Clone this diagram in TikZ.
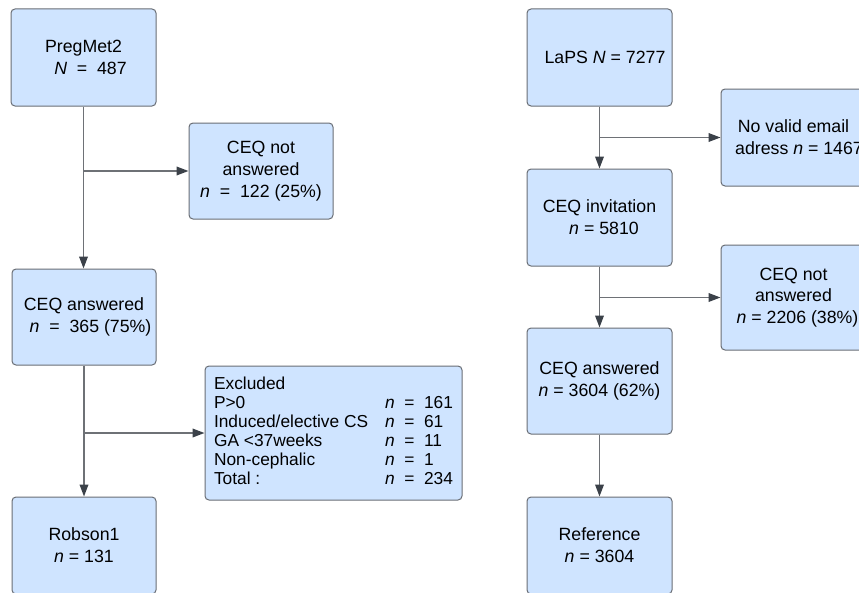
\documentclass[tikz,border=0pt]{standalone}
\usepackage{fontspec}
\setmainfont{Liberation Sans}
\usetikzlibrary{arrows.meta}
\definecolor{boxfill}{HTML}{CFE4FF}
\definecolor{boxline}{HTML}{6A6E75}
\definecolor{conline}{HTML}{6E7176}
\definecolor{tipc}{HTML}{3B4149}
\begin{document}
\begin{tikzpicture}[x=0.75pt,y=-0.75pt,
  box/.style={draw=boxline, fill=boxfill, line width=0.75pt, rounded corners=3pt,
    align=center, inner sep=0pt, font=\fontsize{13.3}{16.3}\selectfont,
    minimum width=108.75pt, minimum height=72.75pt},
  conn/.style={draw=conline, line width=1.1pt, -{Triangle[length=9pt,width=6.5pt,color=tipc]}},
  plain/.style={draw=conline, line width=1.1pt}]
\useasboundingbox (0,0) rectangle (859,592);
\clip (0,0) rectangle (859,592);
\fill[white] (0,0) rectangle (859,592);
% left column
\node[box] (pm) at (83.5,57.5) {PregMet2\\\hspace*{10.5pt}\textit{N}\ \ =\ \ 487};
\node[box, minimum width=108pt, minimum height=72pt] (cna1) at (261,171) {CEQ not\\answered\\\textit{n}\ \ =\ \ 122 (25\%)};
\node[box, minimum width=108pt, minimum height=72pt] (ca1) at (84,317) {CEQ answered\\\hspace*{9.75pt}\textit{n}\ \ =\ \ 365 (75\%)};
\node[box, minimum width=192.75pt, minimum height=100.5pt, font=\fontsize{13}{14.25}\selectfont] (exc) at (333.5,433) {%
\begin{tabular}{@{}p{128.25pt}@{}l@{}}
Excluded & \\
P>0 & \textit{n}\ \ =\ \ 161\\
Induced/elective CS & \textit{n}\ \ =\ \ 61\\
GA <37weeks & \textit{n}\ \ =\ \ 11\\
Non-cephalic & \textit{n}\ \ =\ \ 1\\
Total : & \textit{n}\ \ =\ \ 234
\end{tabular}};
\node[box, minimum width=108pt] (rob) at (84,545.5) {Robson1\\\textit{n} = 131};
% right column
\node[box] (laps) at (599.5,57.5) {\hspace*{8.25pt}LaPS \textit{N} = 7277};
\node[box] (nve) at (793.5,137.5) {No valid email\\\hspace*{8.25pt}adress \textit{n} = 1467};
\node[box] (inv) at (599.5,217.5) {CEQ invitation\\\hspace*{6.75pt}\textit{n} = 5810};
\node[box, minimum height=78.75pt] (cna2) at (793.5,297.5) {CEQ not\\answered\\\hspace*{6pt}\textit{n} = 2206 (38\%)};
\node[box, minimum height=79.5pt] (ca2) at (599.5,381) {CEQ answered\\\textit{n} = 3604 (62\%)};
\node[box] (ref) at (599.5,545.5) {Reference\\\textit{n} = 3604};
% connectors left
\draw[conn] (pm.south) -- (pm.south |- ca1.north);
\draw[conn] (pm.south |- cna1.west) -- (cna1.west);
\draw[conn] (ca1.south) -- (ca1.south |- rob.north);
\draw[conn] (ca1.south |- exc.west) -- (exc.west);
% connectors right
\draw[conn] (laps.south) -- (laps.south |- inv.north);
\draw[conn] (laps.south |- nve.west) -- (nve.west);
\draw[conn] (inv.south) -- (inv.south |- ca2.north);
\draw[conn] (inv.south |- cna2.west) -- (cna2.west);
\draw[conn] (ca2.south) -- (ca2.south |- ref.north);
\end{tikzpicture}
\end{document}
